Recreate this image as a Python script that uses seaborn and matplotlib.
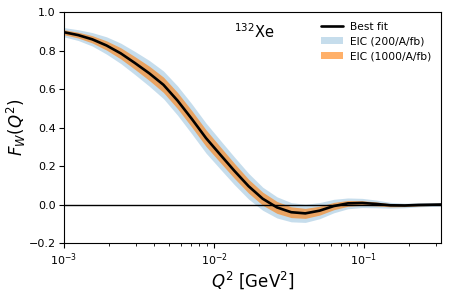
import numpy as np
import pandas as pd
import matplotlib
matplotlib.use("Agg")
import matplotlib.pyplot as plt
import seaborn as sns

# --- Data (log10 of Q^2 in GeV^2) ---
log_q2 = [-3.0, -2.905, -2.811, -2.716, -2.621, -2.527, -2.432, -2.337, -2.243, -2.148,
          -2.053, -1.959, -1.864, -1.769, -1.675, -1.580, -1.485, -1.391, -1.296, -1.201,
          -1.107, -1.012, -0.917, -0.823, -0.728, -0.633, -0.487]
best_fit = [0.895, 0.880, 0.858, 0.826, 0.785, 0.735, 0.682, 0.622, 0.540, 0.445,
            0.345, 0.260, 0.175, 0.095, 0.030, -0.015, -0.040, -0.046, -0.032, -0.008,
            0.006, 0.008, 0.003, -0.004, -0.005, -0.002, 0.0]
# vertical half widths of the bands
half_200 = [0.024, 0.028, 0.035, 0.045, 0.053, 0.060, 0.067, 0.072, 0.076, 0.078,
            0.078, 0.075, 0.072, 0.067, 0.060, 0.055, 0.050, 0.047, 0.042, 0.035,
            0.028, 0.024, 0.020, 0.015, 0.012, 0.010, 0.008]
half_1000 = [0.013, 0.015, 0.019, 0.024, 0.029, 0.033, 0.037, 0.040, 0.042, 0.043,
             0.043, 0.041, 0.039, 0.036, 0.034, 0.031, 0.028, 0.026, 0.023, 0.019,
             0.015, 0.012, 0.010, 0.008, 0.006, 0.005, 0.004]

df = pd.DataFrame({"Q2": 10.0 ** np.array(log_q2), "F": best_fit,
                   "h200": half_200, "h1000": half_1000})

sns.set_style("ticks")
plt.rcParams.update({"text.color": "black", "axes.labelcolor": "black",
                     "xtick.color": "black", "ytick.color": "black"})

fig = plt.figure(figsize=(4.49, 2.93), dpi=100)
ax = fig.add_axes([0.1425, 0.1706, 0.8395, 0.7884])

blue = (0.12, 0.47, 0.71, 0.25)
orange = (1.0, 0.5, 0.05, 0.62)

b200 = ax.fill_between(df["Q2"], df["F"] - df["h200"], df["F"] + df["h200"],
                       color=blue, lw=0, label="EIC (200/A/fb)")
b1000 = ax.fill_between(df["Q2"], df["F"] - df["h1000"], df["F"] + df["h1000"],
                        color=orange, lw=0, label="EIC (1000/A/fb)")
sns.lineplot(data=df, x="Q2", y="F", ax=ax, color="black", lw=1.9, label="Best fit")
ax.axhline(0, color="black", lw=1)

ax.set_xscale("log")
ax.set_xlim(1e-3, 0.326)
ax.set_ylim(-0.2, 1.0)
ax.set_yticks([-0.2, 0.0, 0.2, 0.4, 0.6, 0.8, 1.0])
ax.tick_params(labelsize=8, length=3.5, width=0.8, pad=2.5)
ax.tick_params(which="minor", length=2, width=0.6)
for s in ax.spines.values():
    s.set_linewidth(0.8)
    s.set_color("black")

ax.set_xlabel("$Q^2$ [GeV$^2$]", fontsize=12, labelpad=1)
ax.set_ylabel("$F_W(Q^2)$", fontsize=12, labelpad=0.5)

ax.text(0.45, 0.915, "$^{132}$Xe", transform=ax.transAxes, fontsize=10.5,
        ha="left", va="center")

line = ax.get_lines()[0]
ax.legend([line, b200, b1000], ["Best fit", "EIC (200/A/fb)", "EIC (1000/A/fb)"],
          loc="upper right", frameon=False, fontsize=7.7, handlelength=2.0,
          handletextpad=0.7, labelspacing=0.45, borderaxespad=0.5)

fig.savefig("out.png", dpi=100)
